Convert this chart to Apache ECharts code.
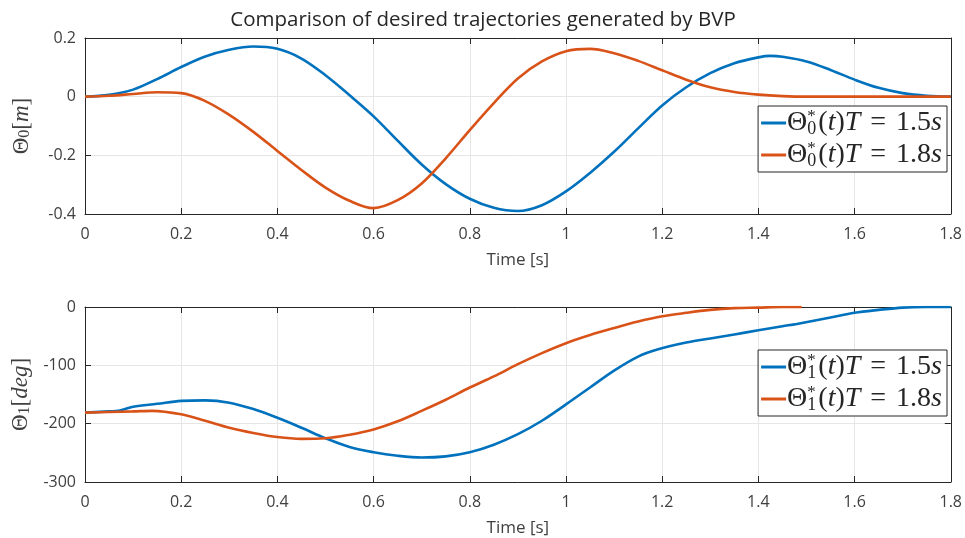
<!DOCTYPE html>
<html>
<head>
<meta charset="utf-8">
<script src="https://cdn.jsdelivr.net/npm/echarts@6/dist/echarts.min.js"></script>
<style>
  html, body { margin: 0; padding: 0; background: #fff; }
  #chart { width: 965px; height: 538px; }
</style>
</head>
<body>
<div id="chart"></div>
<script>
// top plot: Theta_0 [m]
const tTopBlue = [0, 0.05, 0.1, 0.15, 0.2, 0.25, 0.3, 0.35, 0.4, 0.45, 0.5, 0.55, 0.6, 0.65, 0.7, 0.75, 0.8, 0.85, 0.9, 0.95, 1.0, 1.05, 1.1, 1.15, 1.2, 1.25, 1.3, 1.35, 1.4, 1.425, 1.45, 1.5, 1.55, 1.6, 1.65, 1.7, 1.75, 1.8];
const topBlue  = [0, 0.006, 0.024, 0.06, 0.101, 0.137, 0.16, 0.171, 0.163, 0.13, 0.073, 0.005, -0.067, -0.15, -0.231, -0.298, -0.348, -0.379, -0.39, -0.37, -0.323, -0.26, -0.188, -0.108, -0.03, 0.032, 0.08, 0.114, 0.134, 0.139, 0.136, 0.12, 0.091, 0.058, 0.03, 0.012, 0.003, 0];
const tTopOrange = [0, 0.05, 0.1, 0.15, 0.2, 0.25, 0.3, 0.35, 0.4, 0.45, 0.5, 0.55, 0.6, 0.65, 0.7, 0.75, 0.8, 0.85, 0.9, 0.95, 1.0, 1.05, 1.1, 1.15, 1.2, 1.25, 1.3, 1.35, 1.4, 1.45, 1.5, 1.6, 1.7, 1.8];
const topOrange  = [0, 0.003, 0.009, 0.015, 0.012, -0.015, -0.062, -0.12, -0.185, -0.25, -0.31, -0.355, -0.38, -0.353, -0.296, -0.21, -0.114, -0.022, 0.062, 0.12, 0.155, 0.163, 0.148, 0.122, 0.09, 0.058, 0.032, 0.016, 0.007, 0.002, 0, 0, 0, 0];

// bottom plot: Theta_1 [deg]
const tBotBlue = [0, 0.05, 0.07, 0.1, 0.15, 0.2, 0.25, 0.3, 0.35, 0.4, 0.45, 0.5, 0.55, 0.6, 0.65, 0.7, 0.75, 0.8, 0.85, 0.9, 0.95, 1.0, 1.05, 1.1, 1.15, 1.19, 1.25, 1.3, 1.35, 1.4, 1.45, 1.48, 1.55, 1.6, 1.65, 1.7, 1.75, 1.8];
const botBlue  = [-181, -179, -178, -171, -166, -161, -160, -164, -175, -190, -207, -225, -240, -249, -255, -258, -256, -249, -236, -218, -195, -167, -138, -109, -85, -73, -61, -54, -47, -40, -33, -29, -18, -10, -5, -1, 0, 0];
const tBotOrange = [0, 0.05, 0.1, 0.14, 0.2, 0.25, 0.3, 0.35, 0.4, 0.45, 0.5, 0.55, 0.6, 0.65, 0.7, 0.75, 0.8, 0.85, 0.9, 0.95, 1.0, 1.05, 1.1, 1.15, 1.2, 1.25, 1.3, 1.35, 1.4, 1.45, 1.49];
const botOrange  = [-181, -180, -179, -178, -184, -195, -207, -216, -223, -226, -225, -219, -210, -196, -178, -159, -138, -119, -98, -79, -62, -48, -36, -25, -16, -10, -5, -2, -1, 0, 0];

const xTicks = ['0', '0.2', '0.4', '0.6', '0.8', '1', '1.2', '1.4', '1.6', '1.8'];
const legendTop = ['Θ0 T=1.5s', 'Θ0 T=1.8s'];
const legendBot = ['Θ1 T=1.5s', 'Θ1 T=1.8s'];

const BLUE = '#0072BD', ORANGE = '#D95319';
const AX = '#262626', TXT = '#404040', GRID = '#e6e6e6';
const SANS = '"Open Sans", Lato, sans-serif';
const SERIF = '"Liberation Serif", serif';

function pairs(t, v) { return t.map((x, i) => [x, v[i]]); }

const mathRich = {
  th: { fontFamily: SERIF, fontSize: 28, color: AX },
  up: { fontFamily: SERIF, fontSize: 28, color: AX },
  eq: { fontFamily: SERIF, fontSize: 28, color: AX, padding: [0, 10, 0, 10] },
  it: { fontFamily: SERIF, fontSize: 28, fontStyle: 'italic', color: AX },
  sup: { fontFamily: SERIF, fontSize: 17, color: AX, verticalAlign: 'top', width: 0 },
  sub: { fontFamily: SERIF, fontSize: 18, color: AX, verticalAlign: 'bottom', padding: [0, 2, 0, 0] }
};

function legendText(name) {
  const idx = name.charAt(1);
  const T = name.slice(-4, -1);
  return '{th|Θ}{sup|*}{sub|' + idx + '}{up|(}{it|t}{up|)}{it|T}{eq|=}{up|' + T + '}{it|s}';
}

function xAxisFor(grid, pos) {
  const main = pos === 'bottom';
  return {
    type: 'value', gridIndex: grid, position: pos, min: 0, max: 1.8, interval: 0.2,
    name: main ? 'Time [s]' : '', nameLocation: 'middle', nameGap: 38,
    nameTextStyle: { fontFamily: SANS, fontSize: 17, color: TXT },
    axisLine: { show: true, onZero: false, lineStyle: { color: AX } },
    axisTick: { show: true, inside: true, length: 6, lineStyle: { color: AX } },
    axisLabel: { show: main, fontFamily: SANS, fontSize: 16, color: TXT, margin: 12,
      formatter: v => xTicks[Math.round(v / 0.2)] },
    splitLine: { show: main, lineStyle: { color: GRID } }
  };
}

function yAxisFor(grid, pos, min, max, step, nameRich) {
  const main = pos === 'left';
  return {
    type: 'value', gridIndex: grid, position: pos, min: min, max: max, interval: step,
    name: main ? nameRich : '', nameLocation: 'middle', nameGap: 52, nameRotate: 90,
    nameTextStyle: { rich: {
      th: { fontFamily: SERIF, fontSize: 23, color: TXT },
      up: { fontFamily: SERIF, fontSize: 23, color: TXT },
      it: { fontFamily: SERIF, fontSize: 23, fontStyle: 'italic', color: TXT },
      sub: { fontFamily: SERIF, fontSize: 16, color: TXT, verticalAlign: 'bottom' }
    } },
    axisLine: { show: true, onZero: false, lineStyle: { color: AX } },
    axisTick: { show: true, inside: true, length: 6, lineStyle: { color: AX } },
    axisLabel: { show: main, fontFamily: SANS, fontSize: 16, color: TXT, margin: 9 },
    splitLine: { show: main, lineStyle: { color: GRID } }
  };
}

function lineSeries(name, color, xi, yi, data) {
  return {
    name: name, type: 'line', xAxisIndex: xi, yAxisIndex: yi,
    data: data, showSymbol: false, symbol: 'none', smooth: 0.35,
    lineStyle: { color: color, width: 2.6 }, itemStyle: { color: color },
    animation: false, z: 3
  };
}

function legendFor(names, top) {
  return {
    data: names, orient: 'vertical', right: 18, top: top,
    icon: 'rect', itemWidth: 25, itemHeight: 3, itemGap: 2, padding: [2, 5, 2, 3],
    backgroundColor: '#fff', borderColor: AX, borderWidth: 1, borderRadius: 0,
    formatter: legendText, textStyle: { rich: mathRich, lineHeight: 30, padding: [0, 0, 0, -4] }
  };
}

const chart = echarts.init(document.getElementById('chart'));
chart.setOption({
  backgroundColor: '#fff',
  animation: false,
  title: {
    text: 'Comparison of desired trajectories generated by BVP',
    left: 478, textAlign: 'center', top: 5,
    textStyle: { fontFamily: SANS, fontSize: 20.5, fontWeight: 'normal', color: AX }
  },
  grid: [
    { left: 85, right: 11, top: 38, height: 176 },
    { left: 85, right: 11, top: 307, height: 176 }
  ],
  legend: [legendFor(legendTop, 106), legendFor(legendBot, 350)],
  xAxis: [xAxisFor(0, 'bottom'), xAxisFor(0, 'top'), xAxisFor(1, 'bottom'), xAxisFor(1, 'top')],
  yAxis: [
    yAxisFor(0, 'left', -0.4, 0.2, 0.2, '{th|Θ}{sub|0}{up|[}{it|m}{up|]}'),
    yAxisFor(0, 'right', -0.4, 0.2, 0.2, ''),
    yAxisFor(1, 'left', -300, 0, 100, '{th|Θ}{sub|1}{up|[}{it|deg}{up|]}'),
    yAxisFor(1, 'right', -300, 0, 100, '')
  ],
  series: [
    lineSeries(legendTop[0], BLUE, 0, 0, pairs(tTopBlue, topBlue)),
    lineSeries(legendTop[1], ORANGE, 0, 0, pairs(tTopOrange, topOrange)),
    lineSeries(legendBot[0], BLUE, 2, 2, pairs(tBotBlue, botBlue)),
    lineSeries(legendBot[1], ORANGE, 2, 2, pairs(tBotOrange, botOrange))
  ]
});
</script>
</body>
</html>
